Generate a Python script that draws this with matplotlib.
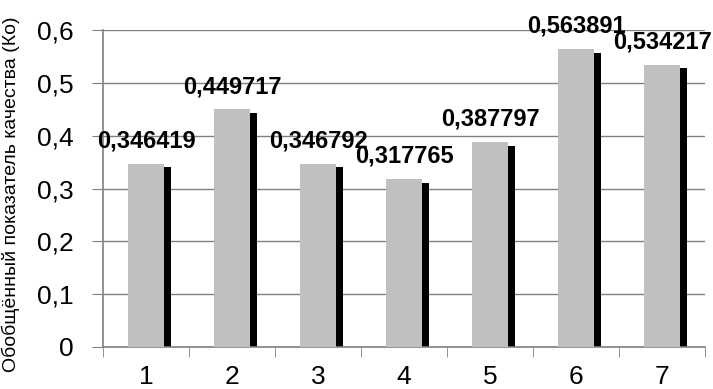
import matplotlib
matplotlib.use("Agg")
import matplotlib.pyplot as plt
import numpy as np

categories = ["1", "2", "3", "4", "5", "6", "7"]
values = [0.346419, 0.449717, 0.346792, 0.317765, 0.387797, 0.563891, 0.534217]
labels = ["0,346419", "0,449717", "0,346792", "0,317765", "0,387797", "0,563891", "0,534217"]
yticks = [0, 0.1, 0.2, 0.3, 0.4, 0.5, 0.6]
ytick_labels = ["0", "0,1", "0,2", "0,3", "0,4", "0,5", "0,6"]
ylabel = "Обобщённый показатель качества (Ко)"

plt.rcParams['font.family'] = ['Liberation Sans', 'DejaVu Sans']

fig = plt.figure(figsize=(7.13, 3.89), dpi=100)
ax = fig.add_axes([103/713, 1-347/389, (705-103)/713, (347-30)/389])

x = np.arange(1, len(values)+1)
gw = 0.42
sw = 0.08
shadow_drop = 0.0065
vals = np.array(values)
ax.bar(x + gw/2 + sw/2, vals - shadow_drop, width=sw, color='black', zorder=2, linewidth=0)
ax.bar(x, vals, width=gw, color='#c0c0c0', zorder=3, linewidth=0)

for xi, v, lab in zip(x, vals, labels):
    ax.text(xi, v + 0.043, lab, ha='center', va='center', fontsize=17, fontweight='bold', zorder=5)

ax.set_xlim(0.5, 7.5)
ax.set_ylim(0, 0.6)
ax.set_yticks(yticks)
ax.set_yticklabels(ytick_labels, fontsize=19)
ax.set_xticks(x)
ax.set_xticklabels(categories, fontsize=19)
ax.tick_params(axis='x', which='major', length=0, pad=13)
ax.set_xticks(np.arange(0.5, 8.0, 1.0), minor=True)
ax.tick_params(axis='x', which='minor', length=7, color='#808080', direction='out')
ax.tick_params(axis='y', length=8, color='#808080', pad=13)

ax.grid(axis='y', color='#808080', linewidth=1, zorder=0)
ax.set_axisbelow(True)
for s in ['top', 'right']:
    ax.spines[s].set_visible(False)
for s in ['left', 'bottom']:
    ax.spines[s].set_color('#808080')
    ax.spines[s].set_linewidth(1.2)

fig.text(11/713, 0.5, ylabel, rotation=90, ha='center', va='center', fontsize=14)

fig.savefig("out.png", dpi=100)
